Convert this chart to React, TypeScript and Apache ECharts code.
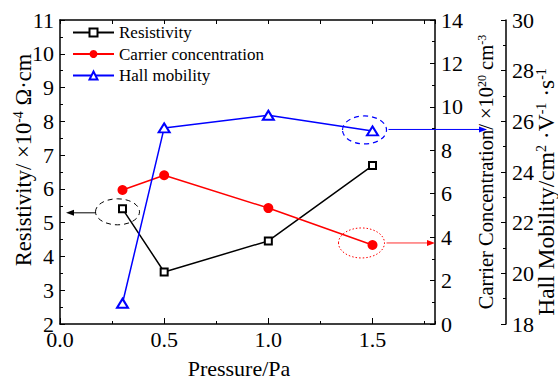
import React, { useEffect, useRef } from 'react';
import * as echarts from 'echarts';

// ---- data ----
const pressure = [0.3, 0.5, 1.0, 1.5];
const resistivity = [5.41, 3.54, 4.46, 6.69];
const carrierConcentration = [6.17, 6.85, 5.34, 3.64];
const hallMobility = [18.82, 25.74, 26.24, 25.62];
const seriesNames = ['Resistivity', 'Carrier concentration', 'Hall mobility'];
const xTickLabels = [0, 0.5, 1.0, 1.5];

const FONT = 'Liberation Serif, Times New Roman, serif';

export default function App() {
  const ref = useRef<HTMLDivElement>(null);

  useEffect(() => {
    document.body.style.margin = '0';
    const chart = echarts.init(ref.current!, null, { renderer: 'svg' });

    const tickStyle = { color: '#000', width: 1 };
    const axisLineStyle = { color: '#000', width: 1.5 };
    const labelStyle = { color: '#000', fontFamily: FONT, fontSize: 22 };

    const yAxisBase = (extra: any) => ({
      type: 'value',
      axisLine: { show: true, onZero: false, lineStyle: axisLineStyle },
      axisTick: { show: true, inside: true, length: 5, lineStyle: tickStyle },
      minorTick: { show: true, splitNumber: 2, length: 3, lineStyle: tickStyle },
      splitLine: { show: false },
      minorSplitLine: { show: false },
      axisLabel: { ...labelStyle, margin: 6 },
      ...extra,
    });

    const option: any = {
      animation: false,
      backgroundColor: '#fff',
      textStyle: { fontFamily: FONT },
      grid: { left: 60, right: 123, top: 20, bottom: 58, containLabel: false },
      legend: {
        orient: 'vertical',
        left: 72,
        top: 24,
        padding: 0,
        itemWidth: 41,
        itemHeight: 10,
        itemGap: 4.5,
        data: seriesNames,
        textStyle: { color: '#000', fontFamily: FONT, fontSize: 17, lineHeight: 17 },
      },
      xAxis: [
        {
          type: 'value',
          position: 'bottom',
          min: 0,
          max: 1.8,
          interval: 0.5,
          axisLine: { show: true, onZero: false, lineStyle: axisLineStyle },
          axisTick: { show: true, inside: true, length: 6, lineStyle: tickStyle },
          splitLine: { show: false },
          axisLabel: {
            ...labelStyle,
            margin: 4,
            showMaxLabel: false,
            formatter: (v: number) =>
              xTickLabels.some((t) => Math.abs(t - v) < 1e-6) ? v.toFixed(1) : '',
          },
        },
        {
          type: 'value',
          position: 'bottom',
          min: 0,
          max: 1.8,
          interval: 0.25,
          axisLine: { show: false, onZero: false },
          axisTick: { show: true, inside: true, length: 3, lineStyle: tickStyle },
          axisLabel: { show: false },
          splitLine: { show: false },
        },
        {
          type: 'value',
          position: 'top',
          min: 0,
          max: 1.8,
          interval: 0.25,
          axisLine: { show: true, onZero: false, lineStyle: axisLineStyle },
          axisTick: { show: true, inside: true, length: 4, lineStyle: tickStyle },
          axisLabel: { show: false },
          splitLine: { show: false },
        },
      ],
      yAxis: [
        yAxisBase({ position: 'left', min: 2, max: 11, interval: 1 }),
        yAxisBase({ position: 'right', min: 0, max: 14, interval: 2 }),
        yAxisBase({ position: 'right', offset: 71, min: 18, max: 30, interval: 2 }),
      ],
      series: [
        {
          name: seriesNames[0],
          type: 'line',
          xAxisIndex: 0,
          yAxisIndex: 0,
          data: pressure.map((p, i) => [p, resistivity[i]]),
          symbol: 'emptyRect',
          symbolSize: 7,
          color: '#000',
          lineStyle: { color: '#000', width: 1.5 },
          itemStyle: { color: '#000', borderWidth: 1.3 },
        },
        {
          name: seriesNames[1],
          type: 'line',
          xAxisIndex: 0,
          yAxisIndex: 1,
          data: pressure.map((p, i) => [p, carrierConcentration[i]]),
          symbol: 'circle',
          symbolSize: 10,
          color: '#ff0000',
          lineStyle: { color: '#ff0000', width: 1.5 },
          itemStyle: { color: '#ff0000' },
        },
        {
          name: seriesNames[2],
          type: 'line',
          xAxisIndex: 0,
          yAxisIndex: 2,
          data: pressure.map((p, i) => [p, hallMobility[i]]),
          symbol: 'emptyTriangle',
          symbolSize: [11, 9],
          color: '#0000ff',
          lineStyle: { color: '#0000ff', width: 1.5 },
          itemStyle: { color: '#0000ff', borderWidth: 1.3 },
        },
      ],
    };

    chart.setOption(option);

    // ---- annotations placed relative to the data points ----
    const last = pressure.length - 1;
    const pR = chart.convertToPixel({ xAxisIndex: 0, yAxisIndex: 0 }, [pressure[0], resistivity[0]]) as number[];
    const pC = chart.convertToPixel({ xAxisIndex: 0, yAxisIndex: 1 }, [pressure[last], carrierConcentration[last]]) as number[];
    const pH = chart.convertToPixel({ xAxisIndex: 0, yAxisIndex: 2 }, [pressure[last], hallMobility[last]]) as number[];
    const xLeft = chart.convertToPixel({ xAxisIndex: 0 }, 0) as number;
    const xRight = chart.convertToPixel({ xAxisIndex: 0 }, 1.8) as number;

    const arrowHead = (tipX: number, y: number, dir: number, color: string) => ({
      type: 'polygon',
      shape: { points: [[tipX, y], [tipX - dir * 8, y - 3], [tipX - dir * 8, y + 3]] },
      style: { fill: color },
      z: 10,
    });

    const kE = { cx: pR[0] - 5, cy: pR[1] + 3, rx: 22, ry: 13 };
    const rE = { cx: pC[0] - 11, cy: pC[1] - 2, rx: 23, ry: 15 };
    const bE = { cx: pH[0] - 8, cy: pH[1] - 1, rx: 22, ry: 14 };
    const kY = pR[1] + 4;
    const rY = pC[1] - 2;
    const bY = pH[1] - 1.5;

    const titleRich = (size: number) => ({
      n: { fontSize: size, fontFamily: FONT, lineHeight: size },
      s: { fontSize: Math.round(size * 0.6), fontFamily: FONT, verticalAlign: 'top', lineHeight: Math.round(size * 0.6) },
    });

    chart.setOption({
      graphic: [
        // black: resistivity -> left axis
        { type: 'ellipse', shape: kE, style: { fill: 'none', stroke: '#000', lineWidth: 1, lineDash: [5, 4] }, z: 10 },
        { type: 'line', shape: { x1: kE.cx - kE.rx, y1: kY, x2: xLeft + 12, y2: kY }, style: { stroke: '#000', lineWidth: 1 }, z: 10 },
        arrowHead(xLeft + 6, kY, -1, '#000'),
        // red: carrier -> right axis
        { type: 'ellipse', shape: rE, style: { fill: 'none', stroke: '#ff0000', lineWidth: 1, lineDash: [1.5, 2] }, z: 10 },
        { type: 'line', shape: { x1: rE.cx + rE.rx + 2, y1: rY, x2: xRight - 6, y2: rY }, style: { stroke: '#ff3030', lineWidth: 1 }, z: 10 },
        arrowHead(xRight, rY, 1, '#ff0000'),
        // blue: mobility -> outer right axis
        { type: 'ellipse', shape: bE, style: { fill: 'none', stroke: '#0000ff', lineWidth: 1.2, lineDash: [5, 4] }, z: 10 },
        { type: 'line', shape: { x1: bE.cx + bE.rx + 2, y1: bY, x2: xRight + 46, y2: bY }, style: { stroke: '#0000ff', lineWidth: 1 }, z: 10 },
        arrowHead(xRight + 52, bY, 1, '#0000ff'),
        // axis titles
        {
          type: 'text', x: 23, y: 160, rotation: Math.PI / 2,
          style: {
            text: '{n|Resistivity/ ×10}{s|-4}{n| Ω·cm}',
            rich: titleRich(22.5), align: 'center', verticalAlign: 'middle', fill: '#000',
          },
        },
        {
          type: 'text', x: 486, y: 172, rotation: Math.PI / 2,
          style: {
            text: '{n|Carrier Concentration/ ×10}{s|20}{n| cm}{s|-3}',
            rich: titleRich(20.5), align: 'center', verticalAlign: 'middle', fill: '#000',
          },
        },
        {
          type: 'text', x: 546, y: 192, rotation: Math.PI / 2,
          style: {
            text: '{n|Hall Mobility/cm}{s|2}{n| ·V}{s|-1}{n| ·s}{s|-1}',
            rich: titleRich(23.5), align: 'center', verticalAlign: 'middle', fill: '#000',
          },
        },
        {
          type: 'text', x: 239, y: 368,
          style: {
            text: 'Pressure/Pa', fontSize: 22, fontFamily: FONT,
            align: 'center', verticalAlign: 'middle', fill: '#000',
          },
        },
      ],
    });

    return () => chart.dispose();
  }, []);

  return <div ref={ref} style={{ width: 558, height: 382 }} />;
}
